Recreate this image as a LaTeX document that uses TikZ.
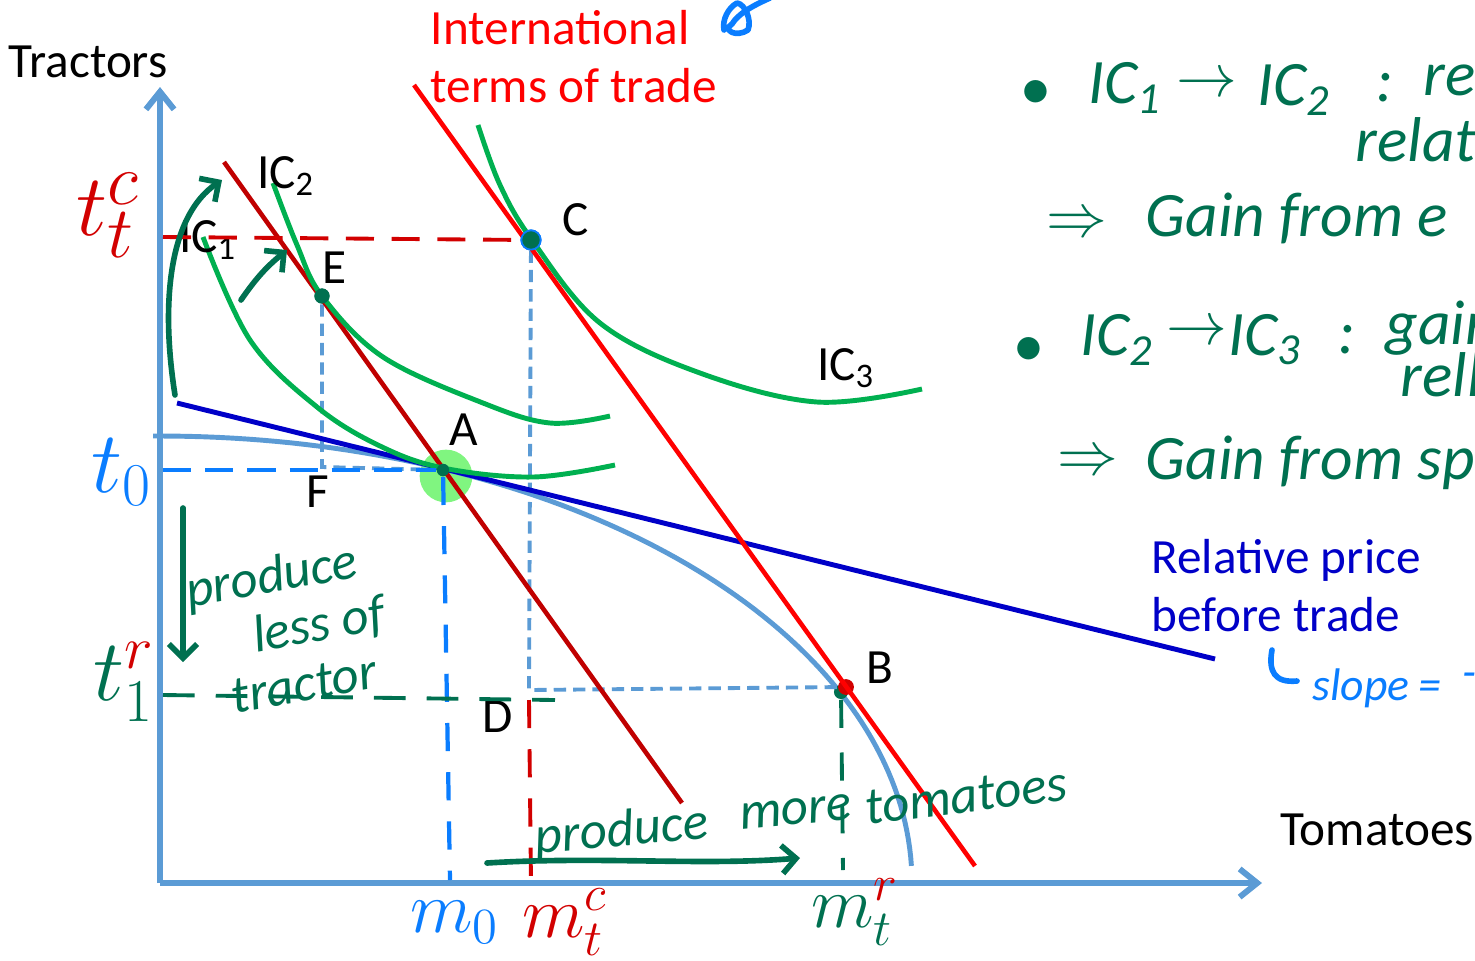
\documentclass[tikz,border=0pt]{standalone}
\usepackage{fontspec}
\setmainfont{Carlito}
\usetikzlibrary{arrows.meta,calc,positioning}

\definecolor{axisblue}{RGB}{91,155,213}
\definecolor{icgreen}{RGB}{0,176,80}
\definecolor{totred}{RGB}{255,0,0}
\definecolor{budgetred}{RGB}{192,0,0}
\definecolor{priceblue}{RGB}{0,0,200}
\definecolor{inkgreen}{RGB}{0,112,80}
\definecolor{inkblue}{RGB}{10,125,255}
\definecolor{inkred}{RGB}{210,0,0}
\definecolor{halo}{RGB}{128,245,128}

\tikzset{
  lbl/.style={font=\fontsize{14}{16.5}\selectfont, inner sep=1pt},
  ink/.style={font=\fontsize{15}{17}\selectfont\itshape, text=inkgreen, inner sep=0pt},
  note/.style={font=\fontsize{18}{20}\selectfont\itshape, text=inkgreen, inner sep=0pt},
  dot/.style={circle, fill=inkgreen, inner sep=0pt, minimum size=4pt},
  guide/.style={axisblue, line width=1.1pt, dash pattern=on 3.5pt off 2pt},
  ic/.style={icgreen, line width=1.4pt},
  inkarrow/.style={inkgreen, line width=1.6pt, line cap=round, -{Straight Barb[length=4pt,width=8pt]}},
}

\begin{document}
\begin{tikzpicture}[x=0.01cm, y=-0.01cm]
\useasboundingbox (0,0) rectangle (1475,960);
\clip (0,0) rectangle (1475,960);

% axes
\coordinate (O) at (160,883);
\coordinate (ytop) at (160,87);
\coordinate (xend) at (1262,883);
\draw[axisblue, line width=1.7pt, -{Straight Barb[length=5pt,width=8pt]}] (O) -- (ytop);
\draw[axisblue, line width=1.7pt, -{Straight Barb[length=5pt,width=8pt]}] (O) -- (xend);
\node[lbl] (tractors) at (88,62) {Tractors};
\node[lbl] (tomatoes) at (1377,830) {Tomatoes};

% halo round A
\node[circle, fill=halo, inner sep=0pt, minimum size=15pt] (halo) at (446,476) {};

% production frontier
\draw[axisblue, line width=1.4pt] (153,436) -- plot[domain=90:2.2, samples=80, variable=\t] ({160+752*cos(\t)}, {883-447*sin(\t)});

% points
\node[dot, minimum size=3.5pt] (A) at (443,470) {};
\node[dot, minimum size=4.3pt] (E) at (322,296) {};
\node[dot, draw=inkblue, line width=0.5pt, minimum size=5.5pt] (C) at (531,240) {};
\node[dot] (Bg) at (841,692) {};
\node[circle, fill=inkred, inner sep=0pt, minimum size=4.5pt] (B) at (846,687) {};
\coordinate (f) at (322,467);
\coordinate (d) at (529,690);

% dashed guides
\draw[guide] (E) -- (f) -- (A);
\draw[guide] (C) -- (d) -- (B);

% price lines
\coordinate (p1) at (177,403);
\coordinate (p2) at (1215,659);
\draw[priceblue, line width=1.4pt] (p1) -- (p2);
\coordinate (q1) at (224,162);
\coordinate (q2) at (682,803);
\draw[budgetred, line width=1.3pt] (q1) -- (q2);
\coordinate (r1) at (414,85);
\coordinate (r2) at (975,866);
\draw[totred, line width=1.3pt] (r1) -- (r2);

% indifference curves
\draw[ic] plot[smooth, tension=0.6] coordinates {(203,237) (250,340) (317,407) (380,446) (443,468) (533,477) (615,465)};
\draw[ic] plot[smooth, tension=0.6] coordinates {(273,183) (297,245) (322,296) (383,357) (483,403) (550,423) (610,416)};
\draw[ic] plot[smooth, tension=0.6] coordinates {(478,125) (500,185) (532,240) (600,323) (700,373) (817,402) (922,389)};

\node[dot, minimum size=3.5pt] at (A) {};
\node[dot, minimum size=4.3pt] at (E) {};
\node[dot, draw=inkblue, line width=0.5pt, minimum size=5.5pt] at (C) {};

% point labels
\node[lbl] (Alab) at (464,430) {A};
\node[lbl] (Blab) at (880,668) {B};
\node[lbl] (Clab) at (576,220) {C};
\node[lbl] (Dlab) at (498,717) {D};
\node[lbl] (Elab) at (335,268) {E};
\node[lbl] (Flab) at (318,492) {F};
\node[lbl] (ic1) at (208,240) {IC\textsubscript{1}};
\node[lbl] (ic2) at (286,176) {IC\textsubscript{2}};
\node[lbl] (ic3) at (846,368) {IC\textsubscript{3}};
\node[lbl, text=totred, align=left] (totlab) at (574,57) {International\\terms of trade};
\node[lbl, text=priceblue, align=left] (pricelab) at (1286,586) {Relative price\\before trade};

% hand-drawn axis marks
\coordinate (tc) at (163,237);
\coordinate (t0) at (163,470);
\coordinate (t1) at (163,695);
\coordinate (m0) at (450,880);
\coordinate (mc) at (531,883);
\coordinate (mr) at (843,870);
\draw[inkred, line width=1.1pt, dash pattern=on 8pt off 5pt] (tc) -- (C);
\draw[inkblue, line width=1.2pt, dash pattern=on 8pt off 4pt] (t0) -- (A);
\draw[inkblue, line width=1.2pt, dash pattern=on 8pt off 6pt] (A) -- (m0);
\draw[inkgreen, line width=1.1pt, dash pattern=on 9pt off 6pt] (t1) -- (555,700);
\draw[inkred, line width=1.1pt, dash pattern=on 8pt off 6pt] (529,700) -- (mc);
\draw[inkgreen, line width=1.1pt, dash pattern=on 8pt off 7pt] (Bg) -- (mr);

\node[text=inkred, inner sep=0pt, font=\fontsize{30}{30}\selectfont] (tclab) at (108,215) {$t_t^c$};
\node[text=inkblue, inner sep=0pt, font=\fontsize{26}{26}\selectfont] (t0lab) at (122,472) {$t_0$};
\node[text=inkgreen, inner sep=0pt, font=\fontsize{26}{26}\selectfont] (t1lab) at (124,682) {$t_{1}^{\textcolor{inkred}{r}}$};
\node[text=inkblue, inner sep=0pt, font=\fontsize{20}{20}\selectfont] (m0lab) at (455,922) {$m_0$};
\node[text=inkred, inner sep=0pt, font=\fontsize{20}{20}\selectfont] (mclab) at (565,922) {$m_t^c$};
\node[text=inkgreen, inner sep=0pt, font=\fontsize{20}{20}\selectfont] (mrlab) at (855,912) {$m_{t}^{\textcolor{inkred}{r}}$};

% hand-drawn arrows and notes
\coordinate (ca1) at (175,395);
\coordinate (ca2) at (222,180);
\draw[inkarrow] (ca1) .. controls (160,300) and (170,215) .. (ca2);
\coordinate (sa1) at (241,300);
\coordinate (sa2) at (287,250);
\draw[inkarrow] (sa1) to[bend left=8] (sa2);
\coordinate (da1) at (183,508);
\coordinate (da2) at (183,662);
\draw[inkarrow] (da1) -- (da2);
\coordinate (ra1) at (487,863);
\coordinate (ra2) at (800,858);
\draw[inkarrow] (ra1) .. controls (600,856) and (700,866) .. (ra2);

\node[ink, rotate=10, align=left] (lesstr) at (290,628) {produce\\[-1pt]\hspace{1.1em}less of\\[-1pt]\hspace{0.5em}tractor};
\node[ink, rotate=5] (prod) at (622,832) {produce};
\node[ink, rotate=5] (more) at (796,812) {more};
\node[ink, rotate=7] (tom) at (966,796) {tomatoes};

% notes on the right
\node[note] (b1) at (1035,95) {\textbullet};
\node[note, anchor=west] (n1a) at (1088,88) {IC\textsubscript{1}};
\node[note] (n1b) at (1207,85) {$\rightarrow$};
\node[note, anchor=west] (n1c) at (1257,90) {IC\textsubscript{2}};
\node[note] (n1d) at (1385,88) {:};
\node[note, anchor=west] (n1e) at (1423,80) {res};
\node[note, anchor=west] (n1f) at (1355,140) {relati};
\node[note] (n2a) at (1077,225) {$\Rightarrow$};
\node[note, anchor=west] (n2b) at (1145,218) {Gain from e};
\node[note] (b3) at (1028,352) {\textbullet};
\node[note, anchor=west] (n3a) at (1080,340) {IC\textsubscript{2}};
\node[note] (n3b) at (1197,333) {$\rightarrow$};
\node[note, anchor=west] (n3c) at (1228,340) {IC\textsubscript{3}};
\node[note] (n3d) at (1347,340) {:};
\node[note, anchor=west] (n3e) at (1385,328) {gain};
\node[note, anchor=west] (n3f) at (1400,375) {rell};
\node[note] (n4a) at (1088,463) {$\Rightarrow$};
\node[note, anchor=west] (n4b) at (1145,463) {Gain from sp};

% slope note
\draw[inkblue, line width=1.6pt, line cap=round] (1272,650) .. controls (1268,672) and (1275,683) .. (1297,681);
\node[note, text=inkblue, anchor=west, font=\fontsize{13}{15}\selectfont\itshape] (slope) at (1312,688) {slope\hspace{0.2em}=};
\node[note, text=inkblue, anchor=west, font=\fontsize{13}{15}\selectfont\itshape] (slopeminus) at (1462,680) {-};

% blue scribble at top
\draw[inkblue, line width=1.6pt, line cap=round, line join=round] (770,-2) .. controls (752,6) and (738,14) .. (732,24) .. controls (722,30) and (736,38) .. (748,30) .. controls (752,20) and (745,4) .. (737,3) .. controls (728,8) and (722,20) .. (724,30);
\end{tikzpicture}
\end{document}
